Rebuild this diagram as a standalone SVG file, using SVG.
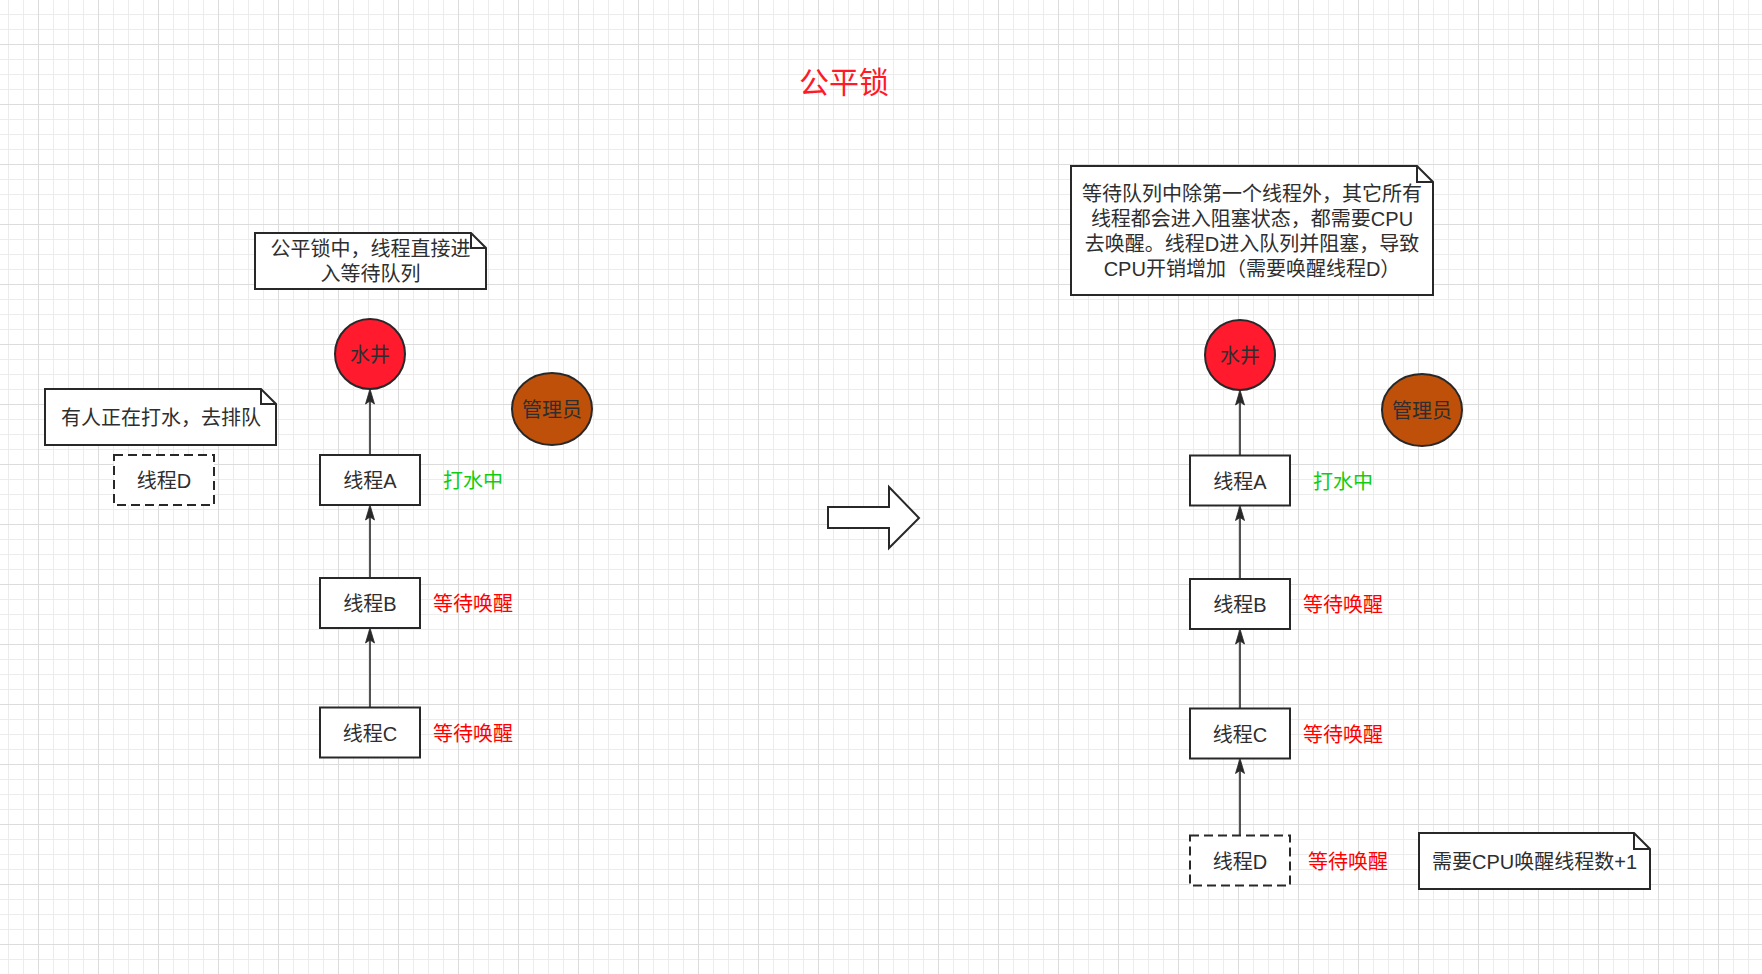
<svg xmlns="http://www.w3.org/2000/svg" width="1762" height="974" viewBox="0 0 1762 974">
  <defs>
    <pattern id="grid" width="60" height="60" patternUnits="userSpaceOnUse" x="38" y="44">
      <path d="M15.5 0V60M30.5 0V60M45.5 0V60M0 15.5H60M0 30.5H60M0 45.5H60" stroke="#ececec" stroke-width="1" fill="none"/>
      <path d="M0.5 0V60M0 0.5H60" stroke="#dcdcdc" stroke-width="1" fill="none"/>
    </pattern>
    <marker id="arr" markerUnits="userSpaceOnUse" markerWidth="20" markerHeight="12" viewBox="-6 -6 17 12" refX="0" refY="0" orient="auto" overflow="visible">
      <path d="M10,0 L-5,-4.5 L-2,0 L-5,4.5 Z" fill="#282828" stroke="#282828" stroke-width="0.8" stroke-linejoin="miter"/>
    </marker>
  </defs>
  <style>
    text { font-family: "Liberation Sans", "Noto Sans CJK SC", sans-serif; font-size: 20px; text-anchor: middle; dominant-baseline: central; fill: #2e2e2e; }
    .box { fill: #ffffff; stroke: #282828; stroke-width: 2; }
    .dash { fill: #ffffff; stroke: #282828; stroke-width: 2; stroke-dasharray: 9 5; }
    .note { fill: #ffffff; stroke: #282828; stroke-width: 2; stroke-linejoin: miter; }
    .fold { fill: none; stroke: #282828; stroke-width: 2; }
    .well { fill: #ff1a2e; stroke: #282828; stroke-width: 2; }
    .mgr { fill: #bf500a; stroke: #282828; stroke-width: 2; }
    .edge { fill: none; stroke: #282828; stroke-width: 1.6; marker-end: url(#arr); }
    .red { fill: #ff0000; }
    .green { fill: #11cc11; }
    .title { font-size: 30px; fill: #ff1a2a; }
  </style>
  <rect x="0" y="0" width="1762" height="974" fill="#ffffff"/>
  <rect x="0" y="0" width="1762" height="974" fill="url(#grid)"/>

  <g id="title"><text class="title" x="844" y="82">公平锁</text></g>

  <!-- Left panel -->
  <g id="note-left-top">
    <path class="note" d="M255,233 H471 L486,248 V289 H255 Z"/>
    <path class="fold" d="M471,233 V248 H486"/>
    <text x="370.5" y="249">公平锁中，线程直接进</text>
    <text x="370.5" y="274">入等待队列</text>
  </g>
  <g id="note-left-queue">
    <path class="note" d="M45,389 H261 L276,404 V445 H45 Z"/>
    <path class="fold" d="M261,389 V404 H276"/>
    <text x="161" y="418">有人正在打水，去排队</text>
  </g>
  <g id="left-threadD">
    <rect class="dash" x="114" y="455" width="100" height="50"/>
    <text x="164" y="481">线程D</text>
  </g>
  <g id="left-well">
    <circle class="well" cx="370" cy="354" r="35"/>
    <text x="370" y="355">水井</text>
  </g>
  <g id="left-manager">
    <ellipse class="mgr" cx="552" cy="409" rx="40" ry="36"/>
    <text x="552" y="410">管理员</text>
  </g>
  <g id="left-threadA">
    <rect class="box" x="320" y="455" width="100" height="50"/>
    <text x="370" y="481">线程A</text>
    <text class="green" x="473" y="481">打水中</text>
  </g>
  <g id="left-threadB">
    <rect class="box" x="320" y="578" width="100" height="50"/>
    <text x="370" y="604">线程B</text>
    <text class="red" x="473" y="604">等待唤醒</text>
  </g>
  <g id="left-threadC">
    <rect class="box" x="320" y="707.5" width="100" height="50"/>
    <text x="370" y="734">线程C</text>
    <text class="red" x="473" y="734">等待唤醒</text>
  </g>

  <g id="transition-arrow">
    <polygon class="box" points="828,507 889,507 889,487 919,518 889,548 889,528 828,528"/>
  </g>

  <!-- Right panel -->
  <g id="note-right-top">
    <path class="note" d="M1071,166 H1417 L1433,182 V295 H1071 Z"/>
    <path class="fold" d="M1417,166 V182 H1433"/>
    <text x="1252" y="194">等待队列中除第一个线程外，其它所有</text>
    <text x="1252" y="219">线程都会进入阻塞状态，都需要CPU</text>
    <text x="1252" y="244">去唤醒。线程D进入队列并阻塞，导致</text>
    <text x="1252" y="269">CPU开销增加（需要唤醒线程D）</text>
  </g>
  <g id="right-well">
    <circle class="well" cx="1240" cy="355" r="35"/>
    <text x="1240" y="356">水井</text>
  </g>
  <g id="right-manager">
    <ellipse class="mgr" cx="1422" cy="410" rx="40" ry="36"/>
    <text x="1422" y="411">管理员</text>
  </g>
  <g id="right-threadA">
    <rect class="box" x="1190" y="455.5" width="100" height="50"/>
    <text x="1240" y="482">线程A</text>
    <text class="green" x="1343" y="482">打水中</text>
  </g>
  <g id="right-threadB">
    <rect class="box" x="1190" y="579" width="100" height="50"/>
    <text x="1240" y="605">线程B</text>
    <text class="red" x="1343" y="605">等待唤醒</text>
  </g>
  <g id="right-threadC">
    <rect class="box" x="1190" y="708.5" width="100" height="50"/>
    <text x="1240" y="735">线程C</text>
    <text class="red" x="1343" y="735">等待唤醒</text>
  </g>
  <g id="right-threadD">
    <rect class="dash" x="1190" y="835.5" width="100" height="50"/>
    <text x="1240" y="862">线程D</text>
    <text class="red" x="1348" y="862">等待唤醒</text>
  </g>
  <g id="note-right-bottom">
    <path class="note" d="M1419,833 H1634 L1650,849 V889 H1419 Z"/>
    <path class="fold" d="M1634,833 V849 H1650"/>
    <text x="1534.5" y="862">需要CPU唤醒线程数+1</text>
  </g>

  <g id="connectors">
    <path class="edge" d="M370,455 V399"/>
    <path class="edge" d="M370,578 V515"/>
    <path class="edge" d="M370,707.5 V638"/>
    <path class="edge" d="M1240,455.5 V400"/>
    <path class="edge" d="M1240,579 V515.5"/>
    <path class="edge" d="M1240,708.5 V639"/>
    <path class="edge" d="M1240,835.5 V768.5"/>
  </g>
</svg>
